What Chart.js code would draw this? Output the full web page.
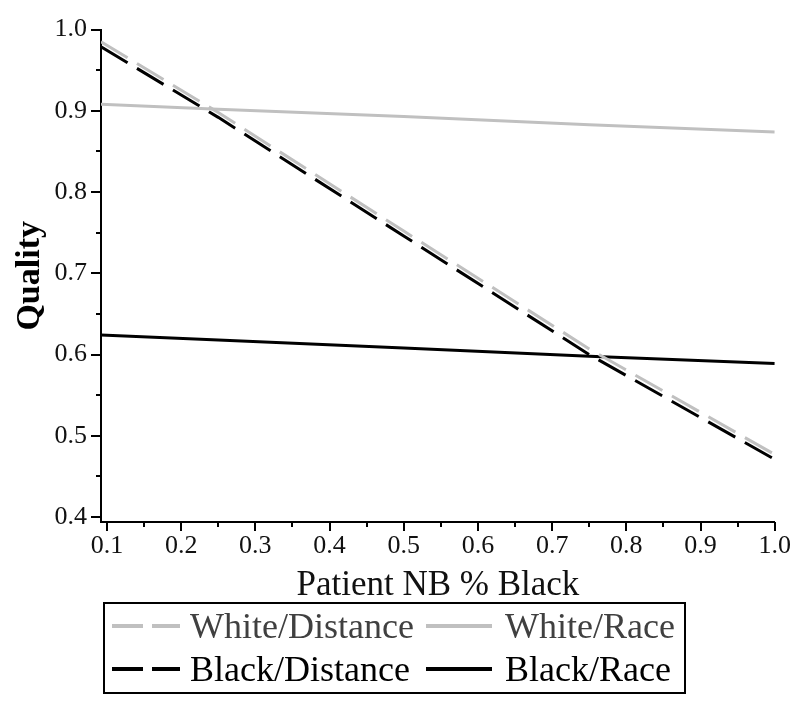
<!DOCTYPE html>
<html>
<head>
<meta charset="utf-8">
<script src="https://cdn.jsdelivr.net/npm/chart.js@4"></script>
<style>
  html, body { margin: 0; padding: 0; background: #fff; }
  #wrap { position: relative; width: 800px; height: 706px; }
  #legend { position: absolute; left: 103px; top: 602px; width: 583px; height: 92px; border: 2px solid #000; box-sizing: border-box; font-family: "Liberation Serif", "Times New Roman", serif; font-size: 36px; }
  .item { position: absolute; height: 40px; line-height: 40px; white-space: nowrap; }
  .sample { position: absolute; }
</style>
</head>
<body>
<div id="wrap">
  <canvas id="c" width="800" height="706"></canvas>
  <div id="legend"></div>
</div>
<script>
// ---- data ----
const xValues        = [0.092, 0.25, 0.5, 0.75, 1.0];
const whiteDistance  = [0.985, 0.898, 0.752, 0.607, 0.477];
const whiteRace      = [0.908, 0.902, 0.893, 0.883, 0.874];
const blackDistance  = [0.979, 0.892, 0.746, 0.600, 0.471];
const blackRace      = [0.624, 0.618, 0.608, 0.598, 0.589];
const seriesNames    = ["White/Distance", "White/Race", "Black/Distance", "Black/Race"];

const xMajorTicks = [0.1, 0.2, 0.3, 0.4, 0.5, 0.6, 0.7, 0.8, 0.9, 1.0];
const xMinorTicks = [0.15, 0.25, 0.35, 0.45, 0.55, 0.65, 0.75, 0.85, 0.95];
const yMajorTicks = [0.4, 0.5, 0.6, 0.7, 0.8, 0.9, 1.0];
const yMinorTicks = [0.45, 0.55, 0.65, 0.75, 0.85, 0.95];
const xAxisTitle = "Patient NB % Black";
const yAxisTitle = "Quality";

// ---- styles ----
const GRAY = "#c0c0c0";
const BLACK = "#000000";
const DASH = [31, 11];
const styles = [
  { color: GRAY,  dash: DASH, text: "#404040" },
  { color: GRAY,  dash: [],   text: "#404040" },
  { color: BLACK, dash: DASH, text: "#000000" },
  { color: BLACK, dash: [],   text: "#000000" }
];
const seriesValues = [whiteDistance, whiteRace, blackDistance, blackRace];

const datasets = seriesNames.map((name, i) => ({
  label: name,
  data: xValues.map((x, j) => ({ x: x, y: seriesValues[i][j] })),
  borderColor: styles[i].color,
  borderWidth: 3,
  borderDash: styles[i].dash,
  pointRadius: 0,
  tension: 0,
  fill: false
}));

const tickMarks = {
  id: "tickMarks",
  afterDraw(chart) {
    const ctx = chart.ctx, xs = chart.scales.x, ys = chart.scales.y;
    const ca = chart.chartArea;
    ctx.save();
    ctx.strokeStyle = "#000";
    ctx.lineWidth = 2;
    ctx.setLineDash([]);
    const drawY = (v, len) => {
      const p = Math.round(ys.getPixelForValue(v));
      ctx.beginPath(); ctx.moveTo(ca.left - len, p); ctx.lineTo(ca.left, p); ctx.stroke();
    };
    const drawX = (v, len) => {
      const p = Math.round(xs.getPixelForValue(v));
      ctx.beginPath(); ctx.moveTo(p, ca.bottom); ctx.lineTo(p, ca.bottom + len); ctx.stroke();
    };
    yMajorTicks.forEach(v => drawY(v, 10));
    yMinorTicks.forEach(v => drawY(v, 5));
    xMajorTicks.forEach(v => drawX(v, 9));
    xMinorTicks.forEach(v => drawX(v, 5));
    ctx.restore();
  }
};

const SERIF = "'Liberation Serif', 'Times New Roman', serif";

new Chart(document.getElementById("c"), {
  type: "line",
  data: { datasets: datasets },
  options: {
    responsive: false,
    animation: false,
    layout: { padding: { left: 0, right: 23, top: 20, bottom: 0 } },
    plugins: { legend: { display: false }, tooltip: { enabled: false } },
    scales: {
      x: {
        type: "linear",
        min: 0.092,
        max: 1.0,
        afterBuildTicks: s => { s.ticks = xMajorTicks.map(v => ({ value: v })); },
        afterFit: s => { s.height = 184; },
        ticks: {
          callback: v => Number(v).toFixed(1),
          font: { family: SERIF, size: 26 },
          color: "#111",
          padding: 9,
          maxRotation: 0,
          autoSkip: false
        },
        grid: { display: true, drawOnChartArea: false, drawTicks: false },
        border: { display: true, color: "#000", width: 2 },
        title: {
          display: true,
          text: xAxisTitle,
          font: { family: SERIF, size: 35 },
          color: "#111",
          padding: { top: 0, bottom: 99 }
        }
      },
      y: {
        type: "linear",
        min: 0.394,
        max: 1.0,
        afterBuildTicks: s => { s.ticks = yMajorTicks.map(v => ({ value: v })); },
        afterFit: s => { s.width = 101; },
        ticks: {
          callback: v => Number(v).toFixed(1),
          font: { family: SERIF, size: 26 },
          color: "#111",
          padding: 14,
          autoSkip: false
        },
        grid: { display: true, drawOnChartArea: false, drawTicks: false },
        border: { display: true, color: "#000", width: 2 },
        title: {
          display: true,
          text: yAxisTitle,
          font: { family: SERIF, size: 34, weight: "bold" },
          color: "#000",
          padding: { top: 10, bottom: 0 }
        }
      }
    }
  },
  plugins: [tickMarks]
});

// ---- HTML legend (real text) ----
const legend = document.getElementById("legend");
const pos = [
  { sx: 7,   sw: 68, tx: 85,  cy: 22 },
  { sx: 321, sw: 66, tx: 400, cy: 22 },
  { sx: 7,   sw: 68, tx: 85,  cy: 65 },
  { sx: 321, sw: 66, tx: 400, cy: 65 }
];
seriesNames.forEach((name, i) => {
  const p = pos[i], st = styles[i];
  const svgNS = "http://www.w3.org/2000/svg";
  const svg = document.createElementNS(svgNS, "svg");
  svg.setAttribute("class", "sample");
  svg.setAttribute("width", p.sw);
  svg.setAttribute("height", 8);
  svg.style.left = p.sx + "px";
  svg.style.top = (p.cy - 4) + "px";
  const ln = document.createElementNS(svgNS, "line");
  ln.setAttribute("x1", 0); ln.setAttribute("y1", 4);
  ln.setAttribute("x2", p.sw); ln.setAttribute("y2", 4);
  ln.setAttribute("stroke", st.color);
  ln.setAttribute("stroke-width", 4);
  if (st.dash.length) ln.setAttribute("stroke-dasharray", "31 9");
  svg.appendChild(ln);
  legend.appendChild(svg);
  const t = document.createElement("div");
  t.className = "item";
  t.textContent = name;
  t.style.left = p.tx + "px";
  t.style.top = (p.cy - 20) + "px";
  t.style.color = st.text;
  legend.appendChild(t);
});
</script>
</body>
</html>
